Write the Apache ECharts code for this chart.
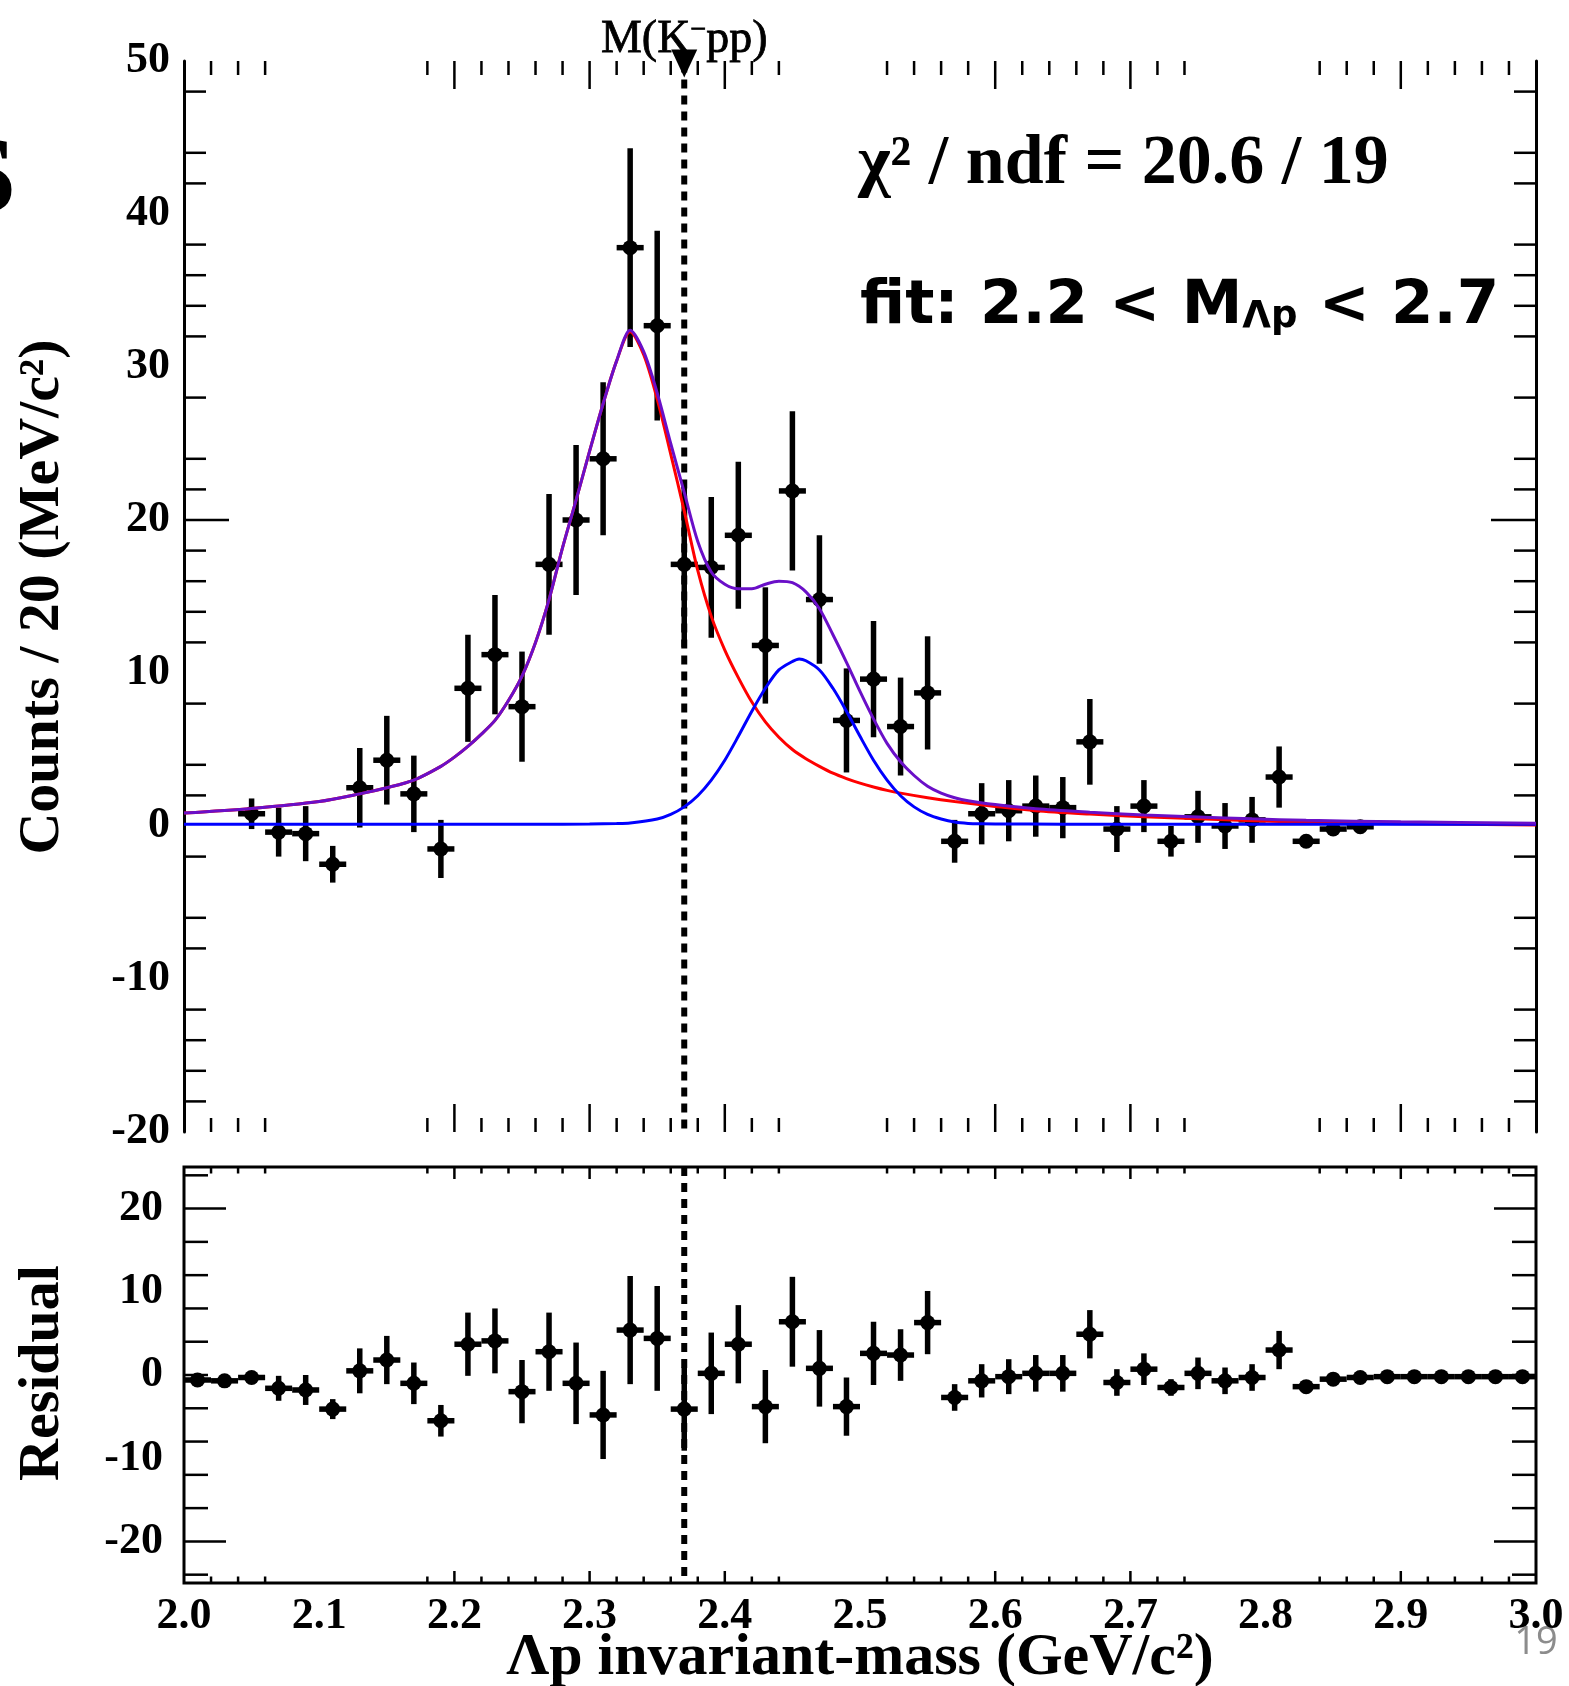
<!DOCTYPE html>
<html>
<head>
<meta charset="utf-8">
<script src="https://cdn.jsdelivr.net/npm/echarts@6/dist/echarts.min.js"></script>
<style>
  html, body { margin: 0; padding: 0; background: #fff; }
  #chart { width: 1569px; height: 1686px; }
</style>
</head>
<body>
<div id="chart"></div>
<script>
// ---- Λp invariant-mass spectrum, 20 MeV bins ----
const binWidth = 0.02;

// upper panel: counts per bin (bin centres in GeV/c^2)
const massBins = [2.05, 2.07, 2.09, 2.11, 2.13, 2.15, 2.17, 2.19, 2.21, 2.23, 2.25, 2.27, 2.29,
  2.31, 2.33, 2.35, 2.37, 2.39, 2.41, 2.43, 2.45, 2.47, 2.49, 2.51, 2.53, 2.55, 2.57, 2.59,
  2.61, 2.63, 2.65, 2.67, 2.69, 2.71, 2.73, 2.75, 2.77, 2.79, 2.81, 2.83, 2.85, 2.87];
const counts = [0.8, -0.4, -0.5, -2.5, 2.5, 4.3, 2.1, -1.5, 9.0, 11.2, 7.8, 17.1, 20.0,
  24.0, 37.8, 32.7, 17.1, 16.9, 19.0, 11.8, 21.9, 14.8, 6.9, 9.6, 6.5, 8.7, -1.0, 0.8,
  1.0, 1.3, 1.2, 5.5, -0.2, 1.3, -1.0, 0.6, 0.0, 0.4, 3.2, -1.0, -0.2, -0.05];
const countErrors = [1.0, 1.6, 1.8, 1.2, 2.6, 2.9, 2.5, 1.9, 3.5, 3.9, 3.6, 4.6, 4.9,
  5.0, 6.5, 6.2, 5.4, 4.6, 4.8, 3.8, 5.2, 4.2, 3.4, 3.8, 3.2, 3.7, 1.4, 2.0,
  2.0, 2.0, 2.0, 2.8, 1.5, 1.7, 1.0, 1.7, 1.5, 1.5, 2.0, 0.4, 0.3, 0.3];

// lower panel: residuals (data - fit)
const residBins = [2.01, 2.03, 2.05, 2.07, 2.09, 2.11, 2.13, 2.15, 2.17, 2.19,
  2.21, 2.23, 2.25, 2.27, 2.29, 2.31, 2.33, 2.35, 2.37, 2.39,
  2.41, 2.43, 2.45, 2.47, 2.49, 2.51, 2.53, 2.55, 2.57, 2.59,
  2.61, 2.63, 2.65, 2.67, 2.69, 2.71, 2.73, 2.75, 2.77, 2.79,
  2.81, 2.83, 2.85, 2.87, 2.89, 2.91, 2.93, 2.95, 2.97, 2.99];
const residuals = [-0.6, -0.7, -0.3, -1.6, -1.8, -4.1, 0.5, 1.8, -1.0, -5.5,
  3.7, 4.1, -2.0, 2.8, -1.0, -4.8, 5.4, 4.4, -4.1, 0.2,
  3.7, -3.8, 6.4, 0.8, -3.8, 2.6, 2.4, 6.3, -2.7, -0.7,
  -0.2, 0.2, 0.2, 4.9, -0.9, 0.7, -1.5, 0.2, -0.7, -0.3,
  3.0, -1.4, -0.5, -0.3, -0.2, -0.2, -0.2, -0.2, -0.2, -0.2];
const residErrors = [0.3, 0.3, 0.5, 1.5, 1.8, 1.2, 2.7, 2.9, 2.5, 1.9,
  3.8, 3.9, 3.8, 4.7, 4.9, 5.3, 6.5, 6.3, 5.0, 4.9,
  4.7, 4.4, 5.4, 4.6, 3.5, 3.8, 3.1, 3.8, 1.6, 2.0,
  2.1, 2.2, 2.2, 2.9, 1.6, 1.9, 1.0, 1.9, 1.6, 1.6,
  2.3, 0.4, 0.3, 0.2, 0.1, 0.1, 0.1, 0.1, 0.1, 0.1];

// fit components
const lowPeakMass = [2.00, 2.05, 2.10, 2.13, 2.15, 2.17, 2.19, 2.20, 2.21, 2.22, 2.23, 2.24, 2.25,
  2.26, 2.27, 2.28, 2.29, 2.30, 2.31, 2.32, 2.33, 2.34, 2.35, 2.36, 2.37, 2.38, 2.39, 2.40,
  2.41, 2.42, 2.43, 2.44, 2.45, 2.46, 2.47, 2.48, 2.49, 2.50, 2.51, 2.52, 2.53, 2.55, 2.57,
  2.60, 2.63, 2.67, 2.71, 2.75, 2.79, 2.83, 2.90, 3.00];
const lowPeakFit = [0.85, 1.15, 1.6, 2.1, 2.5, 3.0, 3.9, 4.5, 5.2, 6.0, 6.9, 8.2, 9.8,
  12.0, 14.8, 18.2, 21.3, 24.5, 27.6, 30.4, 32.3, 30.8, 27.9, 24.3, 20.6, 16.7, 13.7, 11.5,
  9.7, 8.1, 6.8, 5.8, 5.0, 4.4, 3.9, 3.45, 3.1, 2.8, 2.55, 2.33, 2.15, 1.85, 1.6,
  1.28, 1.0, 0.78, 0.6, 0.47, 0.35, 0.25, 0.15, 0.06];

const highPeakMass = [2.00, 2.10, 2.20, 2.26, 2.30, 2.32, 2.33, 2.35, 2.36, 2.37, 2.38, 2.39, 2.40,
  2.41, 2.42, 2.43, 2.44, 2.45, 2.455, 2.46, 2.47, 2.48, 2.49, 2.50, 2.51, 2.52, 2.53, 2.54, 2.55,
  2.56, 2.57, 2.58, 2.59, 2.60, 2.65, 2.70, 2.80, 2.90, 3.00];
const highPeakFit = [0.12, 0.12, 0.12, 0.12, 0.13, 0.16, 0.2, 0.46, 0.76, 1.25, 1.98, 3.0, 4.3,
  5.86, 7.5, 9.0, 10.2, 10.75, 10.92, 10.8, 10.2, 9.0, 7.5, 5.86, 4.3, 3.0, 1.98, 1.25, 0.76,
  0.46, 0.26, 0.17, 0.14, 0.13, 0.12, 0.12, 0.12, 0.12, 0.12];

const totalMass = [2.00, 2.05, 2.10, 2.13, 2.15, 2.17, 2.19, 2.20, 2.21, 2.22, 2.23, 2.24, 2.25,
  2.26, 2.27, 2.28, 2.29, 2.30, 2.31, 2.32, 2.33, 2.34, 2.35, 2.36, 2.37, 2.38, 2.39, 2.40,
  2.41, 2.42, 2.43, 2.44, 2.45, 2.46, 2.47, 2.48, 2.49, 2.50, 2.51, 2.52, 2.53, 2.54, 2.55,
  2.56, 2.57, 2.58, 2.60, 2.63, 2.67, 2.71, 2.75, 2.79, 2.83, 2.90, 3.00];
const totalFit = [0.85, 1.15, 1.6, 2.1, 2.5, 3.0, 3.9, 4.5, 5.2, 6.0, 6.9, 8.2, 9.8,
  12.0, 14.8, 18.2, 21.3, 24.5, 27.6, 30.4, 32.4, 31.0, 28.3, 25.0, 21.8, 18.6, 16.6, 15.8,
  15.5, 15.5, 15.8, 16.0, 15.9, 15.3, 14.2, 12.5, 10.7, 8.8, 7.0, 5.4, 4.2, 3.3, 2.6,
  2.15, 1.85, 1.65, 1.4, 1.12, 0.9, 0.72, 0.59, 0.47, 0.37, 0.27, 0.18];

// K-pp reference mass
const kppMass = 2.37;
const kppArrowTip = 49.84;

// axis ranges and tick positions
const massRange = [2.0, 3.0];
const countRange = [-20, 50];
const residRange = [-25, 25];
const massMinorTicks = [2.02, 2.04, 2.06, 2.18, 2.22, 2.24, 2.26, 2.28, 2.32, 2.34, 2.36, 2.38,
  2.42, 2.44, 2.52, 2.54, 2.56, 2.58, 2.62, 2.64, 2.66, 2.68, 2.72, 2.74,
  2.84, 2.86, 2.88, 2.92, 2.94, 2.96, 2.98];
const massMajorTicks = [2.2, 2.3, 2.4, 2.6, 2.7, 2.9];
const countMinorTicks = [48, 44, 42, 38, 36, 34, 32, 28, 24, 22, 18, 16, 14, 12, 8, 4, 2,
  -2, -6, -8, -12, -14, -16, -18];
const countMajorTicks = [20];
const residMinorTicks = [24, 16, 12, 8, 4, 0, -4, -8, -12, -16, -24];
const residMajorTicks = [20, -20];

// ---- rendering ----
const SERIF = "'Liberation Serif', 'Times New Roman', 'DejaVu Serif', serif";
const SANS = "'DejaVu Sans', 'Noto Sans', sans-serif";
const chart = echarts.init(document.getElementById('chart'));

const zip = (xs, ys) => xs.map((x, i) => [x, ys[i]]);
const tickItems = (minor, major) => minor.map(v => [v, 0]).concat(major.map(v => [v, 1]));

// tick marks drawn through the axis scales, so gaps in the tick rows are kept
function tickSeries(gridIdx, yAxisIdx, items, side, yRange, minorLen, majorLen) {
  return {
    type: 'custom', xAxisIndex: gridIdx, yAxisIndex: yAxisIdx, silent: true, clip: false, z: 3,
    data: items,
    renderItem(params, api) {
      const v = api.value(0);
      const len = api.value(1) === 1 ? majorLen : minorLen;
      let p, q;
      if (side === 'top') { p = api.coord([v, yRange[1]]); q = [p[0], p[1] + len]; }
      else if (side === 'bottom') { p = api.coord([v, yRange[0]]); q = [p[0], p[1] - len]; }
      else if (side === 'left') { p = api.coord([massRange[0], v]); q = [p[0] + len, p[1]]; }
      else { p = api.coord([massRange[1], v]); q = [p[0] - len, p[1]]; }
      return {
        type: 'line',
        shape: { x1: p[0], y1: p[1], x2: q[0], y2: q[1] },
        style: { stroke: '#000', lineWidth: 2.5, lineCap: 'butt' }
      };
    }
  };
}

// data points with vertical (statistical) and horizontal (bin width) error bars
function pointSeries(gridIdx, yAxisIdx, xs, ys, errs) {
  return {
    type: 'custom', xAxisIndex: gridIdx, yAxisIndex: yAxisIdx, silent: true, clip: false, z: 4,
    data: xs.map((x, i) => [x, ys[i], errs[i]]),
    renderItem(params, api) {
      const x = api.value(0), y = api.value(1), e = api.value(2);
      const top = api.coord([x, y + e]), bot = api.coord([x, y - e]);
      const l = api.coord([x - binWidth / 2, y]), r = api.coord([x + binWidth / 2, y]);
      const c = api.coord([x, y]);
      const st = { stroke: '#000', lineWidth: 5.5, lineCap: 'butt' };
      return {
        type: 'group',
        children: [
          { type: 'line', shape: { x1: top[0], y1: top[1], x2: bot[0], y2: bot[1] }, style: st },
          { type: 'line', shape: { x1: l[0], y1: l[1], x2: r[0], y2: r[1] }, style: st },
          { type: 'circle', shape: { cx: c[0], cy: c[1], r: 7.5 }, style: { fill: '#000' } }
        ]
      };
    }
  };
}

function curve(xs, ys, color) {
  return {
    type: 'line', xAxisIndex: 0, yAxisIndex: 0, data: zip(xs, ys),
    showSymbol: false, symbol: 'none', smooth: 0.3, silent: true, z: 5,
    lineStyle: { color: color, width: 3 }
  };
}

const dashStyle = { color: '#000', width: 6, type: [9, 7], cap: 'butt' };

const tickFont = { fontFamily: SERIF, fontWeight: 'bold', fontSize: 44, color: '#000' };

const option = {
  animation: false,
  backgroundColor: '#fff',
  grid: [
    { left: 184, top: 61, width: 1352, height: 1071, show: false },
    { left: 184, top: 1167, width: 1352, height: 416, show: true,
      borderColor: '#000', borderWidth: 3, backgroundColor: 'transparent' }
  ],
  xAxis: [
    { type: 'value', gridIndex: 0, min: massRange[0], max: massRange[1],
      axisLine: { show: false, onZero: false }, axisTick: { show: false },
      axisLabel: { show: false }, splitLine: { show: false } },
    { type: 'value', gridIndex: 1, min: massRange[0], max: massRange[1], interval: 0.1,
      axisLine: { show: false, onZero: false }, axisTick: { show: false },
      axisLabel: Object.assign({ margin: 12, formatter: v => v.toFixed(1) }, tickFont),
      splitLine: { show: false } }
  ],
  yAxis: [
    { type: 'value', gridIndex: 0, min: countRange[0], max: countRange[1], interval: 10,
      axisLine: { show: true, onZero: false, lineStyle: { color: '#000', width: 3 } },
      axisTick: { show: false },
      axisLabel: Object.assign({ margin: 14 }, tickFont),
      splitLine: { show: false } },
    { type: 'value', gridIndex: 0, position: 'right', min: countRange[0], max: countRange[1],
      axisLine: { show: true, onZero: false, lineStyle: { color: '#000', width: 3 } },
      axisTick: { show: false }, axisLabel: { show: false }, splitLine: { show: false } },
    { type: 'value', gridIndex: 1, min: residRange[0], max: residRange[1], interval: 5,
      axisLine: { show: false, onZero: false }, axisTick: { show: false },
      axisLabel: Object.assign({ margin: 21, formatter: v => (v % 10 === 0 ? String(v) : '') }, tickFont),
      splitLine: { show: false } }
  ],
  series: [
    // tick rows
    tickSeries(0, 0, tickItems(massMinorTicks, massMajorTicks), 'top', countRange, 14, 28),
    tickSeries(0, 0, tickItems(massMinorTicks, massMajorTicks), 'bottom', countRange, 14, 28),
    tickSeries(0, 0, tickItems(countMinorTicks, countMajorTicks), 'left', countRange, 22, 45),
    tickSeries(0, 0, tickItems(countMinorTicks, countMajorTicks), 'right', countRange, 22, 45),
    tickSeries(1, 2, tickItems(massMinorTicks, massMajorTicks), 'top', residRange, 6.5, 12),
    tickSeries(1, 2, tickItems(massMinorTicks, massMajorTicks), 'bottom', residRange, 6.5, 12),
    tickSeries(1, 2, tickItems(residMinorTicks, residMajorTicks), 'left', residRange, 24, 42),
    tickSeries(1, 2, tickItems(residMinorTicks, residMajorTicks), 'right', residRange, 24, 42),

    // M(K-pp) marker lines
    { type: 'line', xAxisIndex: 0, yAxisIndex: 0, silent: true, showSymbol: false, symbol: 'none', z: 2,
      data: [[kppMass, kppArrowTip], [kppMass, countRange[0]]], lineStyle: dashStyle },
    { type: 'line', xAxisIndex: 1, yAxisIndex: 2, silent: true, showSymbol: false, symbol: 'none', z: 2,
      data: [[kppMass, residRange[1]], [kppMass, residRange[0]]], lineStyle: dashStyle },
    { type: 'scatter', xAxisIndex: 0, yAxisIndex: 0, silent: true, z: 6,
      data: [[kppMass, kppArrowTip]],
      symbol: 'triangle', symbolRotate: 180, symbolSize: [26, 28],
      itemStyle: { color: '#000', opacity: 1 },
      label: {
        show: true, position: 'top', distance: -13,
        formatter: 'M(K{s|−}pp)',
        fontFamily: SERIF, fontSize: 46, color: '#000',
        textBorderColor: '#000', textBorderWidth: 0.8,
        rich: { s: { fontFamily: SERIF, fontSize: 28, color: '#000', verticalAlign: 'top',
          textBorderColor: '#000', textBorderWidth: 0.8 } }
      } },

    // data
    pointSeries(0, 0, massBins, counts, countErrors),
    pointSeries(1, 2, residBins, residuals, residErrors),

    // fit curves
    curve(lowPeakMass, lowPeakFit, '#ff0000'),
    curve(highPeakMass, highPeakFit, '#0000ff'),
    curve(totalMass, totalFit, '#6a0fc8')
  ]
};

// annotation "fit: 2.2 < M_Λp < 2.7" laid out from measured text widths
const measureCtx = document.createElement('canvas').getContext('2d');
function textWidth(text, font) { measureCtx.font = font; return measureCtx.measureText(text).width; }
const fitSize = 61, fitSubSize = 37;
const fitFont = `bold ${fitSize}px ${SANS}`, fitSubFont = `bold ${fitSubSize}px ${SANS}`;
const fitLeft = 860, fitBaseline = 325;
const wHead = textWidth('fit: 2.2 < M', fitFont);
const wSub = textWidth('Λp', fitSubFont);

function txt(x, y, text, font, align, vAlign, extra) {
  return Object.assign({
    type: 'text', x: x, y: y, silent: true,
    style: { text: text, font: font, fill: '#000', textAlign: align, align: align,
      textVerticalAlign: vAlign, verticalAlign: vAlign }
  }, extra || {});
}

option.graphic = [
  txt(16, 183, 'S', `bold 108px ${SERIF}`, 'right', 'middle'),
  txt(858, 165, 'χ² / ndf = 20.6 / 19', `bold 70px ${SERIF}`, 'left', 'middle'),
  txt(fitLeft, fitBaseline - 0.3 * fitSize, 'fit: 2.2 < M', fitFont, 'left', 'middle'),
  txt(fitLeft + wHead, fitBaseline + 3 - 0.3 * fitSubSize, 'Λp', fitSubFont, 'left', 'middle'),
  txt(fitLeft + wHead + wSub, fitBaseline - 0.3 * fitSize, ' < 2.7', fitFont, 'left', 'middle'),
  txt(43, 597, 'Counts / 20 (MeV/c²)', `bold 58px ${SERIF}`, 'center', 'middle', { rotation: Math.PI / 2 }),
  txt(43, 1373, 'Residual', `bold 58px ${SERIF}`, 'center', 'middle', { rotation: Math.PI / 2 }),
  txt(860, 1658, 'Λp invariant-mass (GeV/c²)', `bold 60px ${SERIF}`, 'center', 'middle'),
  { type: 'text', x: 1536, y: 1643, silent: true,
    style: { text: '19', font: `38px 'Open Sans', 'Lato', sans-serif`, fill: '#8c8c8c',
      textAlign: 'center', align: 'center', textVerticalAlign: 'middle', verticalAlign: 'middle' } }
];

chart.setOption(option);
</script>
</body>
</html>
